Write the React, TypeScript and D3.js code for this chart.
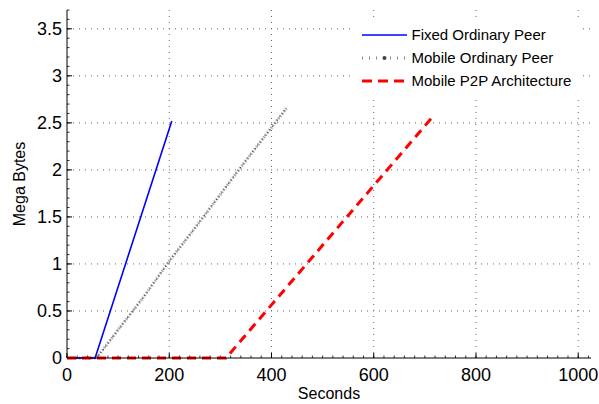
import React from "react";
import * as d3 from "d3";

const xTicks = [0, 200, 400, 600, 800, 1000];
const yTicks = [0, 0.5, 1, 1.5, 2, 2.5, 3, 3.5];
const yTickLabels = ["0", "0.5", "1", "1.5", "2", "2.5", "3", "3.5"];

const fixedPeer: [number, number][] = [[0, 0], [55, 0], [205, 2.52]];
const mobilePeer: [number, number][] = [
  [0, 0], [58, 0], [100, 0.3], [150, 0.65], [200, 1.03], [250, 1.38], [300, 1.74], [350, 2.1], [400, 2.45], [430, 2.66],
];
const mobileP2P: [number, number][] = [[0, 0], [311, 0], [713, 2.55]];

const seriesNames = ["Fixed Ordinary Peer", "Mobile Ordinary Peer", "Mobile P2P Architecture"];

const W = 599, H = 404;
const left = 67, right = 591, top = 10, bottom = 358;

export default function App() {
  const x = d3.scaleLinear().domain([0, 1025]).range([left, right]);
  const y = d3.scaleLinear().domain([0, 3.7]).range([bottom, top]);
  const line = d3.line<[number, number]>().x(d => x(d[0])).y(d => y(d[1]));
  const xMinor = d3.range(0, 1025, 20);
  const yMinor = d3.range(0, 3.7001, 0.1);
  const font = "Liberation Sans, Arial, sans-serif";
  const legendY = [35, 58, 81];
  return (
    <svg width={W} height={H} style={{ position: "absolute", left: 0, top: 0, background: "#fff" }} fontFamily={font}>
      <rect width={W} height={H} fill="#fff" />
      {/* grid */}
      {yTicks.filter(t => t > 0).map(t => (
        <line key={"gy" + t} x1={left} x2={right} y1={y(t)} y2={y(t)} stroke="#666" strokeWidth={1} strokeDasharray="1 5" />
      ))}
      {xTicks.filter(t => t > 0).map(t => (
        <line key={"gx" + t} x1={x(t)} x2={x(t)} y1={top} y2={bottom} stroke="#666" strokeWidth={1} strokeDasharray="1 5" />
      ))}
      {/* minor ticks */}
      {xMinor.map(t => (
        <line key={"mx" + t} x1={x(t)} x2={x(t)} y1={bottom} y2={bottom - 2.5} stroke="#000" strokeWidth={0.8} />
      ))}
      {yMinor.map(t => (
        <line key={"my" + t.toFixed(1)} x1={left} x2={left + 2.5} y1={y(t)} y2={y(t)} stroke="#000" strokeWidth={0.8} />
      ))}
      {xTicks.map(t => (
        <line key={"tx" + t} x1={x(t)} x2={x(t)} y1={bottom} y2={bottom - 5} stroke="#000" strokeWidth={1} />
      ))}
      {yTicks.map(t => (
        <line key={"ty" + t} x1={left} x2={left + 5} y1={y(t)} y2={y(t)} stroke="#000" strokeWidth={1} />
      ))}
      {/* data */}
      <path d={line(mobilePeer) || ""} fill="none" stroke="#aaa" strokeWidth={3} strokeDasharray="1.5 1.5" />
      <path d={line(mobilePeer) || ""} fill="none" stroke="#444" strokeWidth={1.2} strokeDasharray="1 3" />
      <path d={line(fixedPeer) || ""} fill="none" stroke="#0000ff" strokeWidth={1.6} />
      <path d={line(mobileP2P) || ""} fill="none" stroke="#ff0000" strokeWidth={3} strokeDasharray="9 6" />
      {/* axes */}
      <line x1={left} x2={left} y1={top} y2={bottom} stroke="#000" strokeWidth={1} />
      <line x1={left} x2={right} y1={bottom} y2={bottom} stroke="#000" strokeWidth={1} />
      {xTicks.map(t => (
        <text key={"lx" + t} x={x(t)} y={381} textAnchor="middle" fontSize={18} fill="#000">{t}</text>
      ))}
      {yTicks.map((t, i) => (
        <text key={"ly" + t} x={62} y={y(t)} dy="0.35em" textAnchor="end" fontSize={18} fill="#000">{yTickLabels[i]}</text>
      ))}
      <text x={(left + right) / 2} y={399} textAnchor="middle" fontSize={16} fill="#000">Seconds</text>
      <text transform={`translate(25,${(top + bottom) / 2}) rotate(-90)`} textAnchor="middle" fontSize={16} fill="#000">Mega Bytes</text>
      {/* legend */}
      <rect x={355} y={20} width={225} height={75} fill="#fff" />
      <line x1={362} x2={407} y1={legendY[0]} y2={legendY[0]} stroke="#0000ff" strokeWidth={1.6} />
      <line x1={362} x2={407} y1={legendY[1]} y2={legendY[1]} stroke="#888" strokeWidth={3} strokeDasharray="1 6" />
      <circle cx={384.5} cy={legendY[1]} r={2} fill="#444" />
      <line x1={362} x2={407} y1={legendY[2]} y2={legendY[2]} stroke="#ff0000" strokeWidth={3} strokeDasharray="10 6" />
      {seriesNames.map((n, i) => (
        <text key={n} x={411.5} y={legendY[i]} dy="0.35em" fontSize={15} fill="#000">{n}</text>
      ))}
    </svg>
  );
}
